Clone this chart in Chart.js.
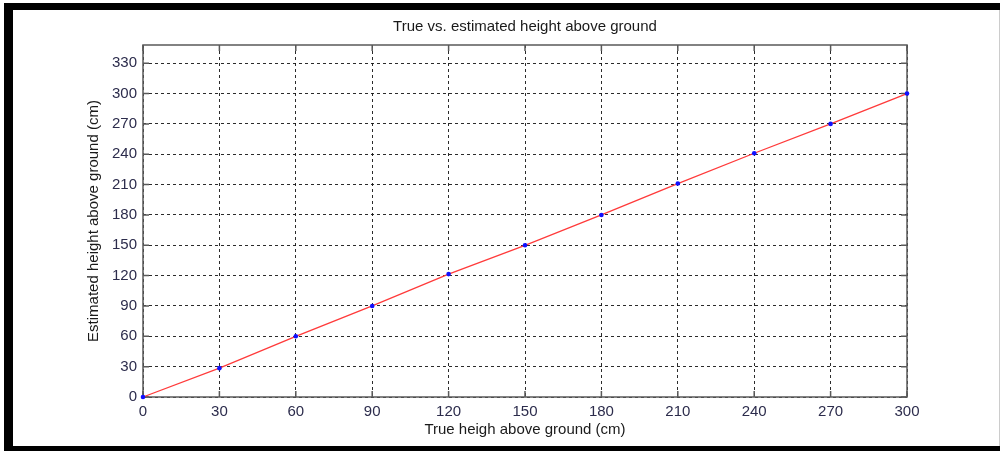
<!DOCTYPE html>
<html>
<head>
<meta charset="utf-8">
<script src="https://cdn.jsdelivr.net/npm/chart.js@4"></script>
<style>
    body { margin: 0; background: #FFFFFF; }
    #wrap { position: relative; width: 1000px; height: 451px; overflow: hidden; }
    canvas { position: absolute; left: 0; top: 0; }
    .frame { position: absolute; background: #000000; }
</style>
</head>
<body>
<div id="wrap">
    <canvas id="myChart" width="1000" height="451"></canvas>
    <div class="frame" style="left:4px; top:3px; width:996px; height:7px;"></div>
    <div class="frame" style="left:4px; top:3px; width:9px; height:448px;"></div>
    <div class="frame" style="left:4px; top:446px; width:996px; height:5px;"></div>
    <div class="frame" style="left:999px; top:10px; width:1px; height:436px; background:#CCCCCC;"></div>
</div>
<script>
let trueHeight = [0, 30, 60, 90, 120, 150, 180, 210, 240, 270, 300];
let estimatedHeight = [0, 28.5, 60, 90, 121.5, 150, 180, 211, 241, 270, 300];
let xTicks = [0, 30, 60, 90, 120, 150, 180, 210, 240, 270, 300];
let yTicks = [0, 30, 60, 90, 120, 150, 180, 210, 240, 270, 300, 330];

const fontFamily = "'Liberation Sans', Arial, sans-serif";
const labelColor = '#2c2c4c';

// draws the matlab style box with the little inner ticks on all four sides
const boxPlugin = {
    id: 'boxPlugin',
    beforeDatasetsDraw(chart) {
        let ctx = chart.ctx;
        let area = chart.chartArea;
        let x = chart.scales.x;
        let y = chart.scales.y;
        ctx.save();
        ctx.strokeStyle = '#5a5a5a';
        ctx.lineWidth = 1.5;
        ctx.beginPath();
        for (let i = 0; i < xTicks.length; i++) {
            let px = x.getPixelForValue(xTicks[i]);
            ctx.moveTo(px, area.bottom);
            ctx.lineTo(px, area.bottom - 6);
            ctx.moveTo(px, area.top);
            ctx.lineTo(px, area.top + 6);
        }
        for (let i = 0; i < yTicks.length; i++) {
            let py = y.getPixelForValue(yTicks[i]);
            ctx.moveTo(area.left, py);
            ctx.lineTo(area.left + 6, py);
            ctx.moveTo(area.right, py);
            ctx.lineTo(area.right - 6, py);
        }
        ctx.stroke();
        ctx.strokeRect(area.left, area.top, area.right - area.left, area.bottom - area.top);
        ctx.restore();
    }
};

function loadChart() {
    const ctx = document.getElementById('myChart');
    new Chart(ctx, {
        type: 'line',
        data: {
            datasets: [{
                data: trueHeight.map((v, i) => ({ x: v, y: estimatedHeight[i] })),
                borderColor: '#FF3a3a',
                borderWidth: 1.3,
                pointRadius: 2.3,
                pointBackgroundColor: '#1010FF',
                pointBorderColor: '#1010FF',
                pointBorderWidth: 0,
                tension: 0,
                clip: false
            }]
        },
        options: {
            responsive: false,
            animation: false,
            devicePixelRatio: 1,
            layout: { padding: { left: 0, right: 93, top: 0, bottom: 0 } },
            plugins: {
                legend: { display: false },
                tooltip: { enabled: false },
                title: {
                    display: true,
                    fullSize: false,
                    text: 'True vs. estimated height above ground',
                    color: '#1a1a1a',
                    font: { family: fontFamily, size: 15, weight: 'normal' },
                    padding: { top: 17.9, bottom: 9.1 }
                }
            },
            scales: {
                x: {
                    type: 'linear',
                    min: 0,
                    max: 300,
                    afterFit: (scale) => { scale.height = 54; },
                    afterBuildTicks: (scale) => { scale.ticks = xTicks.map(v => ({ value: v })); },
                    grid: { color: 'rgba(20,20,20,0.9)', lineWidth: 1, drawTicks: false },
                    border: { display: false, dash: [3, 3] },
                    ticks: {
                        color: labelColor,
                        padding: 6,
                        maxRotation: 0,
                        font: { family: fontFamily, size: 15 }
                    },
                    title: {
                        display: true,
                        text: 'True heigh above ground (cm)',
                        color: '#1a1a1a',
                        font: { family: fontFamily, size: 15 },
                        padding: { top: 0, bottom: 12.5 }
                    }
                },
                y: {
                    type: 'linear',
                    min: 0,
                    max: 348,
                    afterFit: (scale) => { scale.width = 143; },
                    afterBuildTicks: (scale) => { scale.ticks = yTicks.map(v => ({ value: v })); },
                    grid: { color: 'rgba(20,20,20,0.9)', lineWidth: 1, drawTicks: false },
                    border: { display: false, dash: [3, 3] },
                    ticks: {
                        color: labelColor,
                        padding: 6,
                        font: { family: fontFamily, size: 15 }
                    },
                    title: {
                        display: true,
                        text: 'Estimated height above ground (cm)',
                        color: '#1a1a1a',
                        font: { family: fontFamily, size: 15 },
                        padding: { top: 85, bottom: 0 }
                    }
                }
            }
        },
        plugins: [boxPlugin]
    });
}

loadChart();
</script>
</body>
</html>
